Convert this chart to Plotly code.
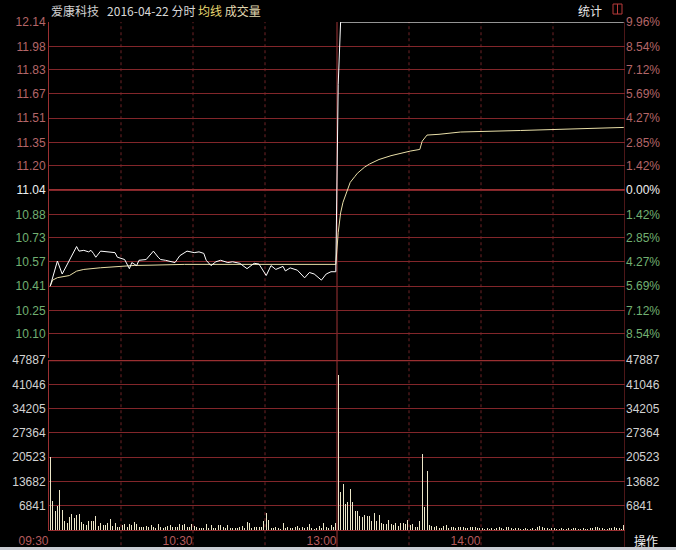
import plotly.graph_objects as go

# ---------------- data ----------------
prev_close = 11.04
price_labels = ["12.14", "11.98", "11.83", "11.67", "11.51", "11.35", "11.20",
                "11.04", "10.88", "10.73", "10.57", "10.41", "10.25", "10.10"]
pct_labels = ["9.96%", "8.54%", "7.12%", "5.69%", "4.27%", "2.85%", "1.42%",
              "0.00%", "1.42%", "2.85%", "4.27%", "5.69%", "7.12%", "8.54%"]
vol_labels = ["47887", "41046", "34205", "27364", "20523", "13682", "6841"]
time_labels = ["09:30", "10:30", "13:00", "14:00"]
time_pos = [0, 60, 120, 180]

price_min = [0, 3, 5, 8, 11, 12, 14, 16, 17, 18, 19, 21, 24, 27, 28, 31, 33, 34, 36, 37,
             40, 43, 45, 46, 48, 52, 54, 57, 60, 62, 64, 65, 67, 69, 71, 74, 76, 79, 82, 85,
             87, 90, 92, 94, 97, 98, 100, 103, 106, 108, 110, 113, 115, 117, 119, 120, 121, 239]
price_val = [10.41, 10.575, 10.49, 10.58, 10.67, 10.64, 10.645, 10.635, 10.645, 10.625,
             10.60, 10.64, 10.635, 10.63, 10.60, 10.585, 10.525, 10.565, 10.545, 10.58,
             10.585, 10.64, 10.60, 10.585, 10.58, 10.565, 10.61, 10.64, 10.63, 10.635,
             10.625, 10.58, 10.545, 10.57, 10.58, 10.565, 10.57, 10.56, 10.525, 10.56,
             10.555, 10.48, 10.545, 10.52, 10.54, 10.51, 10.53, 10.515, 10.465, 10.50,
             10.49, 10.45, 10.49, 10.505, 10.505, 11.73, 12.14, 12.14]

avg_min = [0, 1, 3, 8, 11, 14, 21, 29, 35, 42, 56, 80, 119, 120, 121, 122, 123, 125, 127, 128,
           131, 133, 137, 142, 150, 154, 155, 157, 162, 167, 171, 196, 239]
avg_val = [10.41, 10.45, 10.466, 10.48, 10.509, 10.52, 10.531, 10.542, 10.546, 10.548,
           10.553, 10.553, 10.553, 10.76, 10.89, 10.96, 11.0, 11.09, 11.13, 11.15,
           11.19, 11.21, 11.24, 11.265, 11.295, 11.306, 11.36, 11.40, 11.405, 11.415,
           11.42, 11.43, 11.45]

volume = [
    20470, 8170, 5350, 6850, 11270, 5630, 2540, 2070, 3760, 4510,
    3290, 4230, 4510, 2350, 1690, 1400, 2540, 2540, 2540, 3950,
    1130, 1880, 1300, 1400, 2070, 3100, 1130, 2070, 750, 940,
    1300, 1690, 940, 1690, 1300, 2350, 1690, 940, 750, 750,
    1130, 940, 1300, 750, 560, 1690, 750, 560, 750, 1130,
    1300, 940, 750, 750, 1690, 1300, 1690, 940, 940, 1690,
    1130, 750,
    470, 660, 470, 1600, 470, 1410, 470, 660, 1410, 1410,
    940, 660, 1410, 470, 660, 470, 660, 940, 1130, 660,
    2350, 1880, 660, 940, 940, 940, 940, 2630, 4880, 2820,
    470, 470, 940, 470, 190, 2070, 470, 940, 470, 660,
    940, 1130, 660, 940, 470, 940, 1690, 470, 190, 470,
    1130, 660, 2070, 940, 470, 1410, 940, 1880,
    43660, 10610, 12960, 7320, 7980, 11460, 7790, 5450, 5450, 3940,
    3760, 4230, 3940, 3940, 2540, 4700, 2540, 4230, 1880, 1690,
    1690, 2820, 1690, 1500, 1880, 1220, 1880, 1880, 1600, 2820,
    1500, 1690, 940, 940, 2540, 21410, 6570, 16710, 1410, 1130,
    940, 1130, 560, 560, 1220, 1410, 560, 940, 940, 470,
    750, 940, 750, 560, 560, 750, 940, 750, 470, 560,
    470, 280, 560, 380, 470, 280, 560, 750, 470, 380,
    940, 750, 470, 380, 560, 470, 280, 380, 470, 280,
    380, 470, 280, 750, 1030, 750, 560, 470, 380, 470,
    560, 380, 280, 470, 380, 280, 470, 380, 560, 470,
    280, 380, 470, 380, 280, 470, 560, 750, 940, 560,
    470, 380, 280, 470, 560, 750, 470, 560, 380, 1410,
]

# ---------------- styles ----------------
BG = "#000000"
GRID = "#82262a"
GRID_STRONG = "#9a2f31"
VGRID = "#6e2226"
UP_C = "#b46668"
DN_C = "#72b072"
EQ_C = "#f0f0f0"
VOL_TXT = "#d2d2d2"
TIME_C = "#b55a5c"
FONT = "Liberation Sans"

price_vals = [float(t) for t in price_labels]
vol_vals = [int(t) for t in vol_labels]


def pcolor(v):
    if abs(v - prev_close) < 1e-6:
        return EQ_C
    return UP_C if v > prev_close else DN_C


price_text = [f"<span style='color:{pcolor(v)}'>{t}</span>" for v, t in zip(price_vals, price_labels)]
pct_text = [f"<span style='color:{pcolor(v)}'>{t}</span>" for v, t in zip(price_vals, pct_labels)]

x_price = [m + 0.5 for m in price_min]
x_avg = [m + 0.5 for m in avg_min]
x_vol = [i + 0.5 for i in range(len(volume))]

fig = go.Figure()
fig.add_trace(go.Scatter(x=x_avg, y=avg_val, mode="lines", yaxis="y",
                         line=dict(color="#e9dfa8", width=1), hoverinfo="skip"))
fig.add_trace(go.Scatter(x=x_price, y=price_val, mode="lines", yaxis="y",
                         line=dict(color="#ffffff", width=1), hoverinfo="skip"))
fig.add_trace(go.Bar(x=x_vol, y=volume, yaxis="y2", width=0.42,
                     marker=dict(color="#ebe6c8", line=dict(width=0)), hoverinfo="skip"))

p_range = [9.94, 12.1405]
v_range = [0, 47887.5]

shapes = []
# vertical dotted grid every 30 min
for m in [30, 60, 90, 150, 180, 210]:
    shapes.append(dict(type="line", xref="x", yref="paper", x0=m, x1=m, y0=-0.03, y1=1,
                       line=dict(color=VGRID, width=1, dash="dot"), layer="below"))
# midday solid line
shapes.append(dict(type="line", xref="x", yref="paper", x0=120, x1=120, y0=-0.033, y1=1,
                   line=dict(color="#a03436", width=1), layer="below"))
# right border extension
shapes.append(dict(type="line", xref="x", yref="paper", x0=240, x1=240, y0=-0.033, y1=1,
                   line=dict(color=GRID_STRONG, width=1), layer="below"))
# strong lines: previous close and volume top
shapes.append(dict(type="line", xref="x", yref="y", x0=0, x1=240, y0=prev_close, y1=prev_close,
                   line=dict(color=GRID_STRONG, width=2), layer="below"))
shapes.append(dict(type="line", xref="x", yref="y2", x0=0, x1=240, y0=vol_vals[0], y1=vol_vals[0],
                   line=dict(color=GRID_STRONG, width=2.5), layer="below"))
# small icon top right
shapes.append(dict(type="rect", xref="paper", yref="paper", x0=0.9792, x1=0.9948, y0=1.0157, y1=1.0354,
                   line=dict(color="#b83a3a", width=1)))
shapes.append(dict(type="line", xref="paper", yref="paper", x0=0.9870, x1=0.9870, y0=1.0157, y1=1.0354,
                   line=dict(color="#b83a3a", width=1)))
# bottom window strip
shapes.append(dict(type="rect", xref="paper", yref="paper", x0=-0.09, x1=1.09, y0=-0.045, y1=-0.0335,
                   line=dict(width=0), fillcolor="#c9ccd3"))

annotations = [
    dict(xref="paper", yref="paper", x=0, y=1, xanchor="left", yanchor="bottom", yshift=1,
         showarrow=False,
         text=("<span style='color:#cfcfcf'>爱康科技</span>&nbsp;&nbsp;&nbsp;"
               "<span style='color:#d8d8d8'>2016-04-22 分时</span> "
               "<span style='color:#e8d870'>均线</span> "
               "<span style='color:#e2d8b0'>成交量</span>"),
         font=dict(family="Noto Sans CJK SC", size=12)),
    dict(xref="paper", yref="paper", x=1, y=1, xanchor="right", yanchor="bottom", xshift=-21, yshift=1,
         showarrow=False, text="统计", font=dict(family="Noto Sans CJK SC", size=12, color="#e8e8e8")),
    dict(xref="paper", yref="paper", x=1.0365, y=-0.0197, xanchor="center", yanchor="middle",
         showarrow=False, text="操作", font=dict(family="Noto Sans CJK SC", size=12, color="#f0f0f0")),
]

axis_common = dict(fixedrange=True, zeroline=False, ticks="", showgrid=True,
                   gridcolor=GRID, gridwidth=1, automargin=False)

fig.update_layout(
    width=676, height=550,
    margin=dict(l=49, r=51, t=22, b=20, autoexpand=False),
    paper_bgcolor=BG, plot_bgcolor=BG,
    showlegend=False, bargap=0,
    font=dict(family=FONT, size=12, color=VOL_TXT),
    xaxis=dict(range=[0, 240], domain=[0, 1], anchor="y2", fixedrange=True, automargin=False,
               showgrid=False, zeroline=False, ticks="",
               showline=True, linecolor=GRID_STRONG, linewidth=1,
               tickmode="array", tickvals=time_pos, ticktext=time_labels,
               ticklabelposition="outside left",
               tickfont=dict(family=FONT, size=12, color=TIME_C)),
    yaxis=dict(domain=[0.3386, 1], range=p_range, anchor="x", side="left",
               tickmode="array", tickvals=price_vals, ticktext=price_text,
               showline=True, linecolor=GRID_STRONG, linewidth=1,
               tickfont=dict(family=FONT, size=12), **axis_common),
    yaxis3=dict(overlaying="y", range=p_range, anchor="x", side="right", automargin=False,
                tickmode="array", tickvals=price_vals, ticktext=pct_text,
                showline=False, fixedrange=True, zeroline=False, ticks="", showgrid=False,
                tickfont=dict(family=FONT, size=12)),
    yaxis2=dict(domain=[0, 0.3346], range=v_range, anchor="x", side="left",
                tickmode="array", tickvals=vol_vals, ticktext=vol_labels,
                showline=True, linecolor=GRID_STRONG, linewidth=1,
                tickfont=dict(family=FONT, size=12, color=VOL_TXT), **axis_common),
    yaxis4=dict(overlaying="y2", range=v_range, anchor="x", side="right", automargin=False,
                tickmode="array", tickvals=vol_vals, ticktext=vol_labels,
                showline=False, fixedrange=True, zeroline=False, ticks="", showgrid=False,
                tickfont=dict(family=FONT, size=12, color=VOL_TXT)),
    shapes=shapes,
    annotations=annotations,
)

# invisible anchor traces so the overlay axes render
fig.add_trace(go.Scatter(x=[0], y=[prev_close], yaxis="y3", mode="markers",
                         marker=dict(opacity=0), hoverinfo="skip"))
fig.add_trace(go.Scatter(x=[0], y=[0], yaxis="y4", mode="markers",
                         marker=dict(opacity=0), hoverinfo="skip"))

fig.write_html(
    "out.html",
    config={"displayModeBar": False, "staticPlot": True},
    post_script=("document.documentElement.style.margin='0';"
                 "document.documentElement.style.background='#000';"
                 "document.body.style.margin='0';"
                 "document.body.style.background='#000';"
                 "document.body.style.overflow='hidden';"),
)
